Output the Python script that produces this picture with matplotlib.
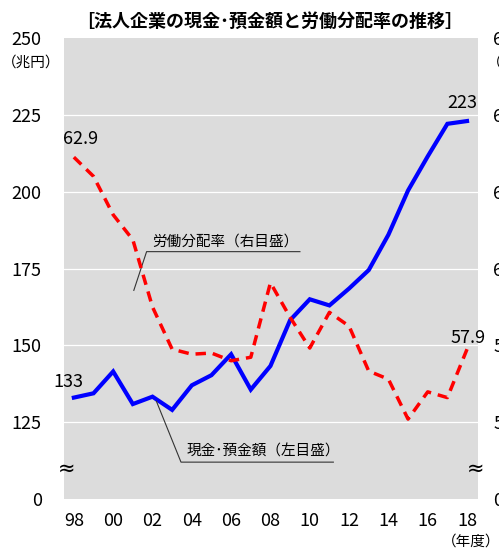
import numpy as np
import matplotlib.pyplot as plt
import matplotlib.transforms as mtransforms

plt.rcParams['font.family'] = ['Noto Sans CJK JP', 'DejaVu Sans']

years = np.arange(1998, 2019)

# cash & deposits of corporations (trillion yen)
cash = [133.0, 134.4, 141.5, 130.9, 133.3, 129.0, 137.0, 140.3, 147.1, 135.6,
        143.3, 158.2, 165.0, 163.0, 168.5, 174.5, 186.0, 200.4, 211.5, 222.1, 223.0]

# labour share (%)
labour = [62.9, 62.4, 61.4, 60.75, 59.0, 57.9, 57.77, 57.8, 57.6, 57.69,
          59.63, 58.73, 57.93, 58.86, 58.5, 57.33, 57.12, 56.08, 56.79, 56.64, 57.9]

left_ticks = [100, 125, 150, 175, 200, 225, 250]
left_labels = ["0", "125", "150", "175", "200", "225", "250"]
right_ticks = [54, 56, 58, 60, 62, 64, 66]
right_labels = ["0", "56", "58", "60", "62", "64", "66"]
xticks = list(range(1998, 2019, 2))
xlabels = ["98", "00", "02", "04", "06", "08", "10", "12", "14", "16", "18"]

fig = plt.figure(figsize=(4.99, 5.52), dpi=100)
ax = fig.add_axes([0.1283, 0.096, 0.8297, 0.835])
ax.set_facecolor("#dcdcdc")
for s in ax.spines.values():
    s.set_visible(False)

ax.set_xlim(1997.5, 2018.56)
ax.set_ylim(100, 250)
ax.set_yticks(left_ticks)
ax.set_yticklabels(left_labels)
ax.set_xticks(xticks)
ax.set_xticklabels(xlabels)
ax.tick_params(axis="y", length=0, pad=16, labelsize=13)
ax.tick_params(axis="x", length=0, pad=9, labelsize=13)
for t in left_ticks[1:-1]:
    ax.axhline(t, color="white", lw=0.9, zorder=1)

ax.plot(years, cash, color="#0000ff", lw=3.0, zorder=3, solid_joinstyle="miter")

ax2 = ax.twinx()
for s in ax2.spines.values():
    s.set_visible(False)
ax2.set_ylim(54, 66)
ax2.set_yticks(right_ticks)
ax2.set_yticklabels(right_labels)
ax2.tick_params(axis="y", length=0, pad=11, labelsize=13)
ax2.plot(years, labour, color="#ff0000", lw=2.5, linestyle=(0, (3, 2)), zorder=3)

# end-point values
ax.text(years[0] + 0.5, cash[0] + 2, f"{cash[0]:.0f}", ha="right", va="bottom", fontsize=13)
ax.text(years[-1] - 0.25, cash[-1] + 3, f"{cash[-1]:.0f}", ha="center", va="bottom", fontsize=13)
ax2.text(years[0] + 0.35, labour[0] + 0.25, f"{labour[0]:.1f}", ha="center", va="bottom", fontsize=13)
ax2.text(years[-1] + 0.05, labour[-1] + 0.3, f"{labour[-1]:.1f}", ha="center", va="center", fontsize=13)

# series callouts
ax.plot([2001.05, 2001.7, 2009.5], [167.9, 180.5, 180.5], color="#333333", lw=0.8, zorder=4)
ax.text(2001.97, 181.5, "労働分配率（右目盛）", ha="left", va="bottom", fontsize=10.5, zorder=4)
ax.plot([2002.2, 2003.45, 2011.2], [131.8, 112.0, 112.0], color="#333333", lw=0.8, zorder=4)
ax.text(2003.75, 113.0, "現金･預金額（左目盛）", ha="left", va="bottom", fontsize=10.5, zorder=4)

# axis break marks
br = mtransforms.blended_transform_factory(ax.transAxes, ax.transData)
ax.text(0.005, 110, "≈", transform=br, ha="center", va="center", fontsize=15, family="DejaVu Sans")
ax.text(0.995, 110, "≈", transform=br, ha="center", va="center", fontsize=15, family="DejaVu Sans")

fig.text(0.54, 0.962, "［法人企業の現金･預金額と労働分配率の推移］", ha="center", va="center",
         fontsize=13, fontweight="bold")
fig.text(0.062, 0.886, "（兆円）", ha="center", va="center", fontsize=10.5)
fig.text(0.975, 0.886, "（％）", ha="left", va="center", fontsize=10.5)
fig.text(0.945, 0.018, "（年度）", ha="center", va="center", fontsize=10.5)

fig.savefig("out.png", dpi=100)
